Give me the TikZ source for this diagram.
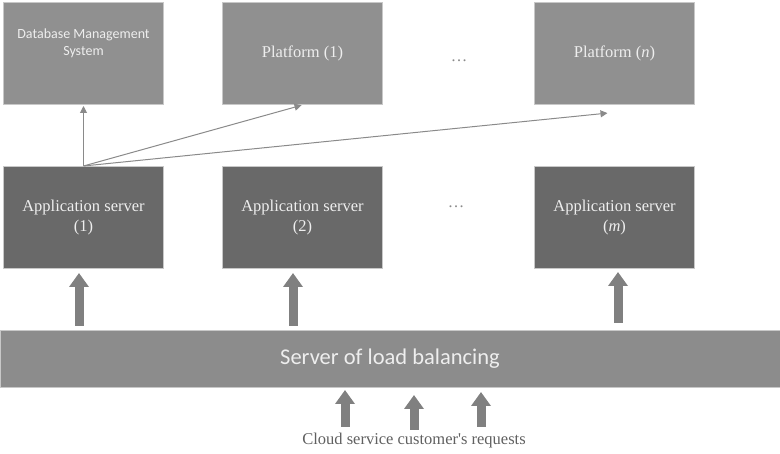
\documentclass[tikz,border=0pt]{standalone}
\usepackage{fontspec}
\setmainfont{Liberation Serif}
\newfontfamily\calibri{Carlito}
\usepackage{tikz}
\usetikzlibrary{arrows.meta,positioning}

\definecolor{boxgray}{HTML}{909090}
\definecolor{appgray}{HTML}{696969}
\definecolor{lbgray}{HTML}{8C8C8C}
\definecolor{edgegray}{HTML}{C8C8C8}
\definecolor{txtgray}{HTML}{EEEEEE}
\definecolor{linegray}{HTML}{8A8A8A}
\definecolor{arrowgray}{HTML}{808080}
\definecolor{reqgray}{HTML}{606060}

\begin{document}
\begin{tikzpicture}[x=1pt,y=-1pt,>={Triangle[length=7pt,width=7pt]},
                    node distance=58pt]
  \tikzstyle{box}=[draw=edgegray,line width=1pt,minimum width=160pt,
                   minimum height=102pt,text=txtgray,align=center,
                   font=\fontsize{16.5}{20}\selectfont]
  \tikzstyle{platform}=[box,fill=boxgray]
  \tikzstyle{appserver}=[box,fill=appgray]
  \tikzstyle{link}=[->,draw=linegray,line width=1pt,shorten >=1pt]
  \tikzstyle{fatarrow}=[-{Triangle[length=14pt,width=19pt]},draw=arrowgray,
                        line width=9pt]

  \useasboundingbox (0,0) rectangle (780,454);

  % upper row
  \node[platform,font=\calibri\fontsize{14}{17}\selectfont,text depth=22pt]
                      (db) at (83.5,53.5) {Database Management\\System};
  \node[platform]     (p1) [right=of db] {Platform (1)};
  \node[platform]     (pn) [right=151pt of p1] {Platform (\textit{n})};
  \node[text=linegray,font=\fontsize{16.5}{20}\selectfont]
                      (dotsp) at (459,61) {\ldots};

  % application servers
  \node[appserver]    (a1) [below=61pt of db] {Application server\\(1)};
  \node[appserver]    (a2) [below=61pt of p1] {Application server\\(2)};
  \node[appserver]    (am) [below=61pt of pn] {Application server\\(\textit{m})};
  \node[text=linegray,font=\fontsize{16.5}{20}\selectfont]
                      (dotsa) at (456,207) {\ldots};

  % balancer and requests
  \node[fill=lbgray,draw=edgegray,line width=1pt,minimum width=780pt,
        minimum height=57pt,text=txtgray,font=\calibri\fontsize{22.5}{26}\selectfont]
                      (lb) at (390,359) {Server of load balancing};
  \node[text=reqgray,font=\fontsize{16.5}{20}\selectfont]
                      (req) at (414,441) {Cloud service customer\textquotesingle s requests};
  \coordinate (q1) at (345,427);
  \coordinate (q2) at (414,430);
  \coordinate (q3) at (481,427);

  \draw[link] (a1.north) -- (db.south);
  \draw[link] (a1.north) -- (p1.south);
  \draw[link] (a1.north) -- ([xshift=-6pt,yshift=-8pt]pn.south);

  \draw[fatarrow,shorten <=4pt,shorten >=4pt]
        ([xshift=-4.5pt]a1.south |- lb.north) -- ([xshift=-4.5pt]a1.south);
  \draw[fatarrow,shorten <=4pt,shorten >=4pt]
        ([xshift=-9.5pt]a2.south |- lb.north) -- ([xshift=-9.5pt]a2.south);
  \draw[fatarrow,shorten <=7pt,shorten >=3pt]
        ([xshift=3.5pt]am.south |- lb.north) -- ([xshift=3.5pt]am.south);

  \draw[fatarrow,shorten >=2pt] (q1) -- (q1 |- lb.south);
  \draw[fatarrow,shorten >=7pt] (q2) -- (q2 |- lb.south);
  \draw[fatarrow,shorten >=4pt] (q3) -- (q3 |- lb.south);

\end{tikzpicture}
\end{document}
